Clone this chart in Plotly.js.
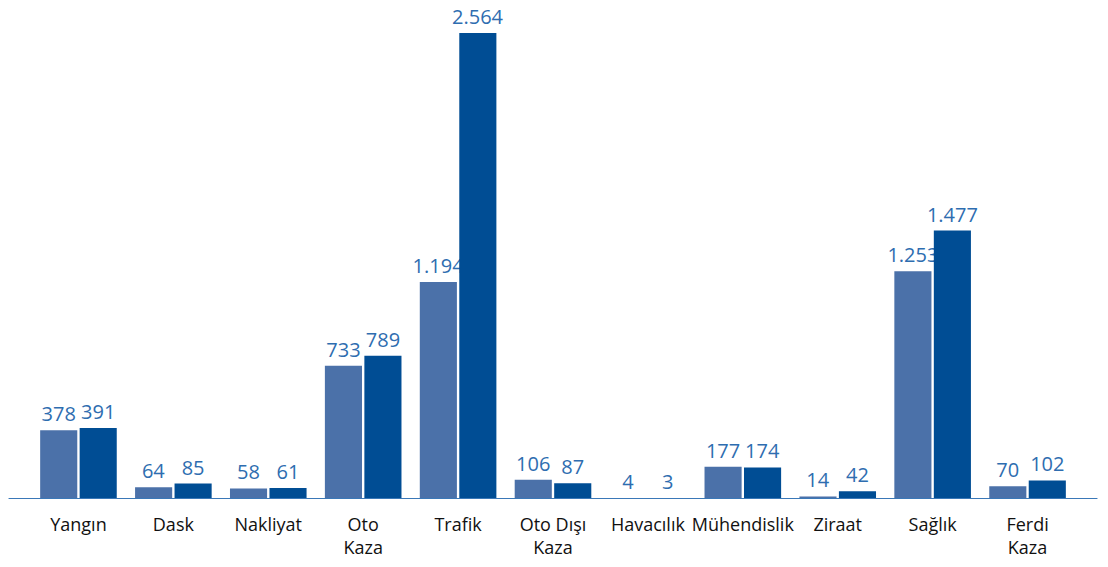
<!DOCTYPE html>
<html><head><meta charset="utf-8">
<script src="https://cdn.plot.ly/plotly-3.0.1.min.js"></script>
<style>html,body{margin:0;padding:0;background:#fff}#chart{width:1108px;height:567px}</style>
</head><body><div id="chart"></div>
<script>
const categories = ["Yangın","Dask","Nakliyat","Oto<br>Kaza","Trafik","Oto Dışı<br>Kaza","Havacılık","Mühendislik","Ziraat","Sağlık","Ferdi<br>Kaza"];
const series1 = [378,64,58,733,1194,106,4,177,14,1253,70];
const series2 = [391,85,61,789,2564,87,3,174,42,1477,102];

const labelFont = {family:"Open Sans, Noto Sans, sans-serif", size:20, color:"#2e6db0"};
const traces = [
  {type:"bar", x:categories, y:series1, marker:{color:"#4b71a9"}, texttemplate:"%{y:,}", textposition:"outside", constraintext:"none", textfont:labelFont, cliponaxis:false, hoverinfo:"none"},
  {type:"bar", x:categories, y:series2, marker:{color:"#004d94"}, texttemplate:"%{y:,}", textposition:"outside", constraintext:"none", textfont:labelFont, cliponaxis:false, hoverinfo:"none"}
];
const layout = {
  width:1108, height:567,
  margin:{l:30.5, r:32.5, t:10, b:68},
  separators:",.",
  barmode:"group", bargap:0.168, bargroupgap:0.06,
  showlegend:false,
  uniformtext:{mode:false},
  paper_bgcolor:"#fff", plot_bgcolor:"#fff",
  xaxis:{type:"category", showgrid:false, zeroline:false, showline:false, ticks:"", tickfont:{family:"Open Sans, Noto Sans, sans-serif", size:18, color:"#111"}, ticklabelstandoff:13},
  yaxis:{range:[0,2691], visible:false, showgrid:false, zeroline:false},
  shapes:[{type:"line", xref:"paper", yref:"y", x0:-0.0215, x1:1.0215, y0:0, y1:0, line:{color:"#3a78b8", width:2}}]
};
Plotly.newPlot("chart", traces, layout, {displayModeBar:false, staticPlot:true});
</script></body></html>
